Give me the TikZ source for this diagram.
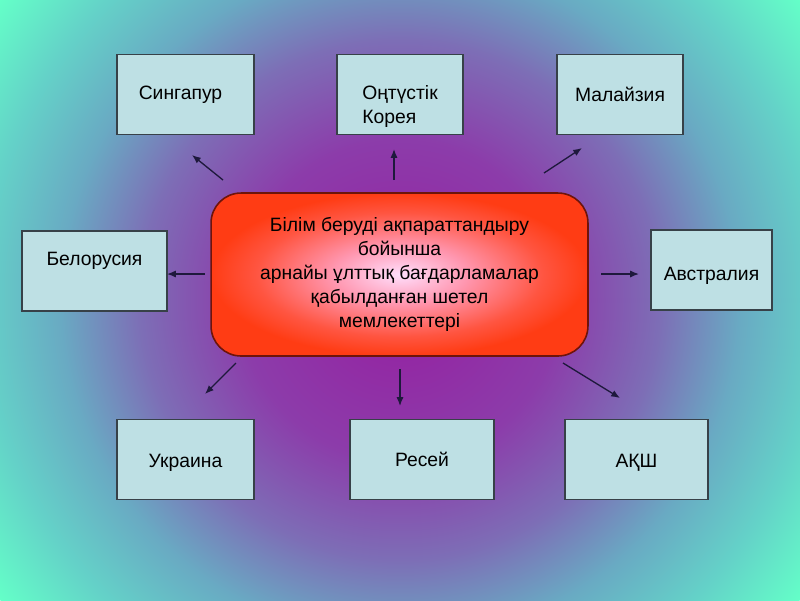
\documentclass[tikz,border=0pt]{standalone}
\usepackage{fontspec}
\setmainfont{Liberation Sans}
\usetikzlibrary{arrows.meta}

\definecolor{boxfill}{RGB}{190,224,228}
\definecolor{boxline}{RGB}{55,65,72}
\definecolor{arrowink}{RGB}{30,25,60}
\definecolor{redline}{RGB}{110,20,10}
% background colours
\definecolor{bgA}{RGB}{150,30,160}
\definecolor{bgB}{RGB}{140,60,170}
\definecolor{bgC}{RGB}{125,110,182}
\definecolor{bgD}{RGB}{105,170,195}
\definecolor{bgE}{RGB}{100,210,200}
\definecolor{bgF}{RGB}{100,255,200}
% centre box colours
\definecolor{glowA}{RGB}{255,222,252}
\definecolor{glowB}{RGB}{255,150,175}
\definecolor{glowC}{RGB}{255,85,65}
\definecolor{glowD}{RGB}{255,60,20}

\pgfdeclareradialshading{backdrop}{\pgfpoint{0bp}{0bp}}{%
  color(0bp)=(bgA); color(8bp)=(bgB); color(13bp)=(bgC);
  color(17bp)=(bgD); color(21bp)=(bgE); color(25bp)=(bgF); color(50bp)=(bgF)}
\pgfdeclareradialshading{centreglow}{\pgfpoint{0bp}{0bp}}{%
  color(0bp)=(glowA); color(9bp)=(glowB); color(19bp)=(glowC);
  color(25bp)=(glowD); color(50bp)=(glowD)}

\begin{document}
\begin{tikzpicture}[x=0.02cm,y=-0.02cm,
    countrybox/.style={draw=boxline,fill=boxfill,line width=0.9pt,
      minimum height=1.6cm,inner sep=0pt,font=\fontsize{11}{13.6}\selectfont},
    centrebox/.style={draw=redline,line width=0.9pt,rounded corners=0.6cm,
      shading=centreglow,minimum width=7.54cm,minimum height=3.26cm,
      align=center,font=\fontsize{11}{13.6}\selectfont},
    pointer/.style={-{Latex[length=5pt,width=4pt]},line width=0.75pt,draw=arrowink}]

  % background
  \useasboundingbox (0,0) rectangle (800,600);
  \begin{scope}
    \clip (0,0) rectangle (800,600);
    \shade[shading=backdrop] (400,300) circle (10cm);
  \end{scope}

  % centre
  \node[centrebox] (centre) at (399.5,274.5)
    {Білім беруді ақпараттандыру\\бойынша\\арнайы ұлттық бағдарламалар\\қабылданған шетел\\мемлекеттері};

  % countries
  \node[countrybox,minimum width=2.74cm] (singapore) at (185.5,94.5) {Сингапур\hspace*{0.2cm}};
  \node[countrybox,minimum width=2.52cm,align=left,text height=1.24cm] (korea) at (400,94.5) {Оңтүстік\\Корея};
  \node[countrybox,minimum width=2.52cm] (malaysia) at (620,94.5) {Малайзия};
  \node[countrybox,minimum width=2.9cm,text depth=0.5cm] (belarus) at (94.5,271) {Белорусия};
  \node[countrybox,minimum width=2.42cm,text height=0.48cm] (australia) at (711.5,270) {Австралия};
  \node[countrybox,minimum width=2.74cm,text height=0.4cm] (ukraine) at (185.5,459.5) {Украина};
  \node[countrybox,minimum width=2.88cm] (russia) at (422,459.5) {Ресей};
  \node[countrybox,minimum width=2.86cm,text height=0.4cm] (usa) at (636.5,459.5) {АҚШ};

  % arrow ends
  \coordinate (s1) at (223,180);  \coordinate (s2) at (192,155);
  \coordinate (k1) at (394,180);  \coordinate (k2) at (394,149);
  \coordinate (m1) at (544,173);  \coordinate (m2) at (582,148);
  \coordinate (b1) at (205,274);  \coordinate (b2) at (167,274);
  \coordinate (a1) at (601,274);  \coordinate (a2) at (639,274);
  \coordinate (u1) at (236,363);  \coordinate (u2) at (205,394);
  \coordinate (r1) at (400,369);  \coordinate (r2) at (400,406);
  \coordinate (q1) at (563,363);  \coordinate (q2) at (620,398);

  \draw[pointer] (s1) -- (s2);
  \draw[pointer] (k1) -- (k2);
  \draw[pointer] (m1) -- (m2);
  \draw[pointer] (b1) -- (b2);
  \draw[pointer] (a1) -- (a2);
  \draw[pointer] (u1) -- (u2);
  \draw[pointer] (r1) -- (r2);
  \draw[pointer] (q1) -- (q2);
\end{tikzpicture}
\end{document}
